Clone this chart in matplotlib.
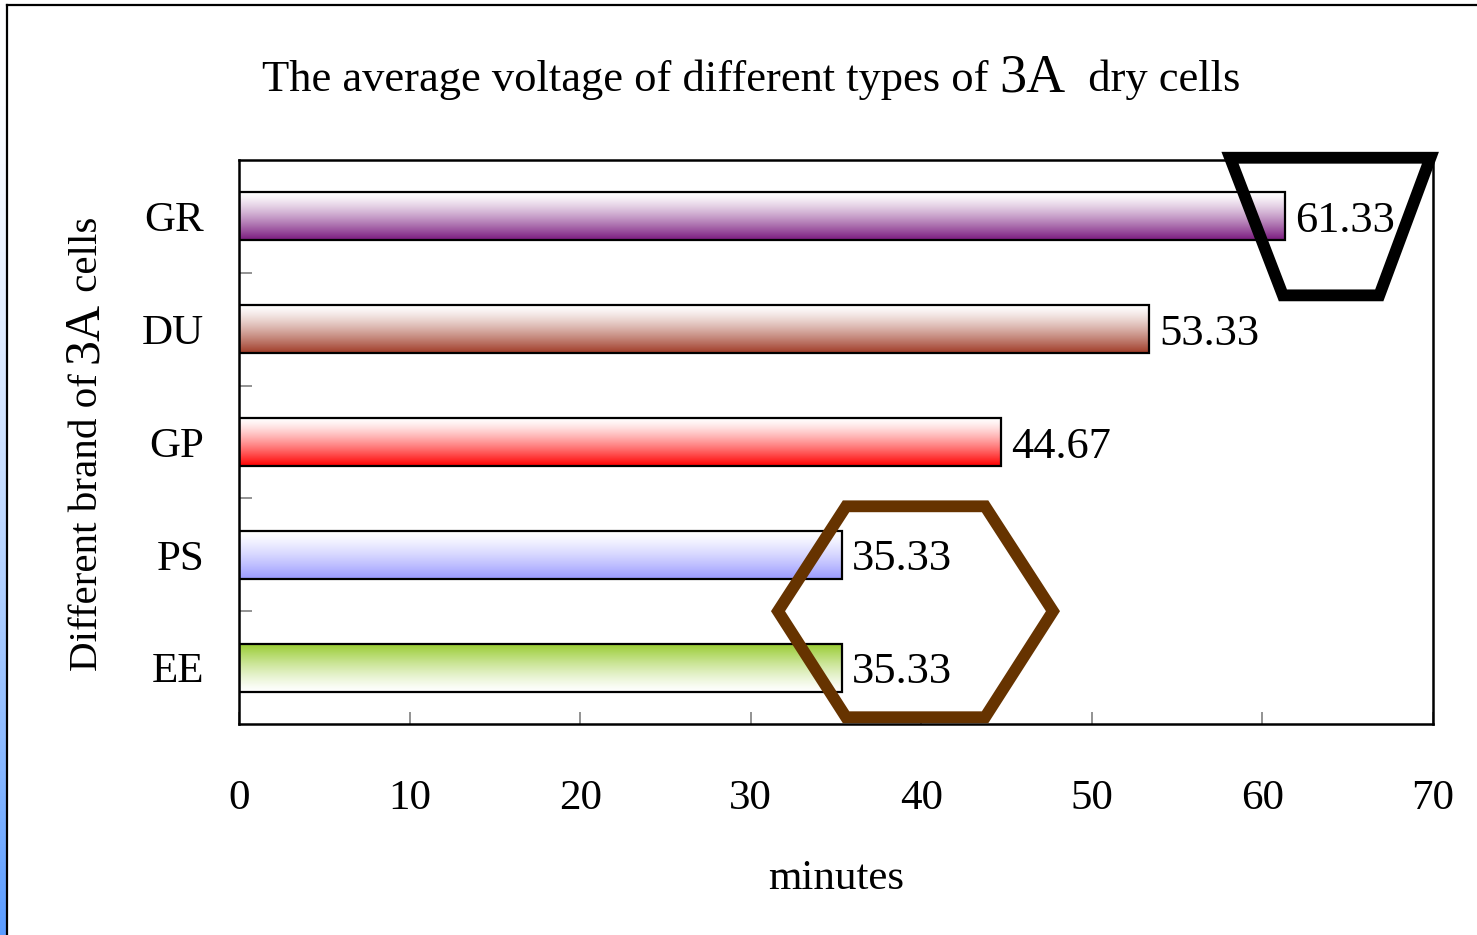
import numpy as np
import matplotlib
matplotlib.use("Agg")
import matplotlib.pyplot as plt
from matplotlib.patches import Polygon, Rectangle
from matplotlib.colors import to_rgb

categories = ["GR", "DU", "GP", "PS", "EE"]
values = [61.33, 53.33, 44.67, 35.33, 35.33]
value_labels = ["61.33", "53.33", "44.67", "35.33", "35.33"]
bar_colors = ["#7A1A7E", "#A03C28", "#FF0000", "#9A9AFF", "#99CC33"]
gradient_top_is_color = [False, False, False, False, True]
xticks = [0, 10, 20, 30, 40, 50, 60, 70]

SERIF = "Liberation Serif"
plt.rcParams["font.family"] = SERIF

W, H = 1477, 935
fig = plt.figure(figsize=(W / 100, H / 100), dpi=100)
fig.patch.set_facecolor("white")

# left blue strip
strip = fig.add_axes([0, 0, 7 / W, 1])
strip.set_axis_off()
g = np.linspace(0, 1, 256) ** 1.6
c0 = np.array(to_rgb("#FFFFFF"))
c1 = np.array(to_rgb("#5A9CFF"))
img = c0[None, :] * (1 - g[:, None]) + c1[None, :] * g[:, None]
strip.imshow(img[:, None, :], aspect="auto", extent=[0, 1, 0, 1], origin="upper")
strip.set_xlim(0, 1)
strip.set_ylim(0, 1)

# figure border lines
fig.add_artist(plt.Line2D([7 / W, 7 / W], [0, 1 - 5 / H], color="black", lw=1.6))
fig.add_artist(plt.Line2D([7 / W, 1], [1 - 5 / H, 1 - 5 / H], color="black", lw=1.6))

ax_l, ax_r, ax_t, ax_b = 239, 1433, 160, 724
ax = fig.add_axes([ax_l / W, 1 - ax_b / H, (ax_r - ax_l) / W, (ax_b - ax_t) / H])
ax.set_xlim(0, 70)
ax.set_ylim(4.5, -0.5)

ypos = np.arange(len(categories))
bh = 0.425
bars = ax.barh(ypos, values, height=bh, facecolor="none", edgecolor="black",
               linewidth=1.6, zorder=3)
for b, col, top_col in zip(bars, bar_colors, gradient_top_is_color):
    t = np.linspace(0, 1, 128)
    if top_col:
        t = 1 - t
    t = t ** 1.3
    cc = np.array(to_rgb(col))
    grad = np.ones(3)[None, :] * (1 - t[:, None]) + cc[None, :] * t[:, None]
    x0, y0 = b.get_x(), b.get_y()
    w, h = b.get_width(), b.get_height()
    im = ax.imshow(grad[:, None, :], aspect="auto",
                   extent=[x0, x0 + w, y0 + h, y0], origin="upper", zorder=2,
                   interpolation="bilinear")
    clip = Rectangle((x0, y0), w, h, transform=ax.transData)
    im.set_clip_path(clip)
ax.set_xlim(0, 70)
ax.set_ylim(4.5, -0.5)

for yy, v, lab in zip(ypos, values, value_labels):
    ax.text(v + 0.6, yy + 0.04, lab, va="center", ha="left", fontsize=32, zorder=4)

for s in ax.spines.values():
    s.set_linewidth(1.8)
ax.set_xticks(xticks)
ax.set_xticklabels([str(x) for x in xticks], fontsize=31)
ax.tick_params(axis="x", direction="in", length=9, width=1.2, color="#808080", pad=40)
ax.set_yticks(ypos)
ax.set_yticklabels(categories, fontsize=31)
ax.tick_params(axis="y", length=0, pad=25)
ax.set_yticks(ypos[:-1] + 0.5, minor=True)
ax.tick_params(axis="y", which="minor", direction="in", length=9, width=1.2, color="#808080")

ax.set_xlabel("minutes", fontsize=31, labelpad=30)

# annotation shapes (data coordinates)
trap = Polygon([(58.1, -0.52), (69.85, -0.52), (66.85, 0.70), (61.2, 0.70)],
               closed=True, fill=False, edgecolor="black", linewidth=8.5,
               joinstyle="miter", clip_on=False, zorder=6)
ax.add_patch(trap)
hexa = Polygon([(35.59, 2.57), (43.74, 2.57), (47.72, 3.50), (43.74, 4.44),
                (35.59, 4.44), (31.60, 3.50)],
               closed=True, fill=False, edgecolor="#663300", linewidth=8.5,
               joinstyle="miter", clip_on=False, zorder=6)
ax.add_patch(hexa)

fig.canvas.draw()
renderer = fig.canvas.get_renderer()

def piece_text(pieces, x0, y0, rotation=0):
    """pieces: list of (text, fontsize). x0,y0 in pixels (baseline start)."""
    x, y = x0, y0
    for txt, fs in pieces:
        if rotation == 0:
            t = fig.text(x / W, 1 - y / H, txt, fontsize=fs, ha="left",
                         va="baseline", transform=fig.transFigure)
            ext = t.get_window_extent(renderer)
            x += ext.width
        else:
            t = fig.text(x / W, 1 - y / H, txt, fontsize=fs, ha="left",
                         va="baseline", rotation=90, rotation_mode="anchor",
                         transform=fig.transFigure)
            ext = t.get_window_extent(renderer)
            y -= ext.height

piece_text([("The average voltage of different types of ", 32), ("3A", 39),
            ("  dry cells", 32)], 262, 91)
piece_text([("Different brand of ", 29.5), ("3A", 36), (" cells", 29.5)], 97, 671,
           rotation=90)

fig.savefig("out.png", dpi=100)
